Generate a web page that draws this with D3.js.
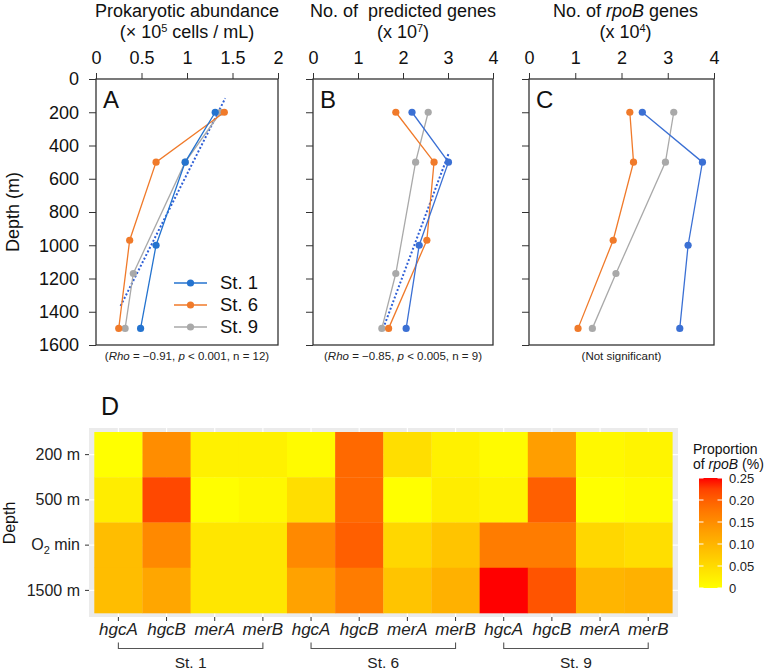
<!DOCTYPE html>
<html>
<head>
<meta charset="utf-8">
<script src="https://cdn.jsdelivr.net/npm/d3@7"></script>
<style>
  body { margin: 0; background: #fff; }
  svg { font-family: "Liberation Sans", Arial, sans-serif; }
</style>
</head>
<body>
<svg id="chart" width="767" height="671"></svg>
<script>
// ---- data for the depth profiles (A, B, C) ----
const depthTicks = [0, 200, 400, 600, 800, 1000, 1200, 1400, 1600];
const stations = ["St. 1", "St. 6", "St. 9"];
const depthsSt1 = [200, 500, 1000, 1500];
const depthsSt6 = [200, 500, 970, 1500];
const depthsSt9 = [200, 500, 1170, 1500];

const abundTicks = [0, 0.5, 1, 1.5, 2];
const abundSt1 = [1.31, 0.98, 0.66, 0.49];
const abundSt6 = [1.41, 0.66, 0.37, 0.25];
const abundSt9 = [1.37, 0.98, 0.41, 0.32];
const abundTrendX = [0.27, 1.42];
const abundTrendDepth = [1365, 116];

const geneTicks = [0, 1, 2, 3, 4];
const genesSt1 = [2.2, 3.01, 2.36, 2.07];
const genesSt6 = [1.84, 2.69, 2.53, 1.68];
const genesSt9 = [2.56, 2.28, 1.84, 1.53];
const genesTrendX = [1.56, 3.01];
const genesTrendDepth = [1500, 451];

const rpobTicks = [0, 1, 2, 3, 4];
const rpobSt1 = [2.45, 3.75, 3.44, 3.26];
const rpobSt6 = [2.18, 2.26, 1.82, 1.06];
const rpobSt9 = [3.13, 2.95, 1.88, 1.37];

// ---- data for the heatmap (D) ----
const genes = ["hgcA", "hgcB", "merA", "merB"];
const heatStations = ["St. 1", "St. 6", "St. 9"];
const depthRows = ["200 m", "500 m", "O2 min", "1500 m"];
const heat200 = [0.0, 0.15, 0.02, 0.02, 0.005, 0.19, 0.045, 0.02, 0.005, 0.13, 0.01, 0.015];
const heat500 = [0.025, 0.22, 0.002, 0.01, 0.045, 0.19, 0.0, 0.025, 0.015, 0.2, 0.0, 0.005];
const heatO2 = [0.09, 0.155, 0.035, 0.035, 0.155, 0.2, 0.055, 0.08, 0.17, 0.17, 0.055, 0.045];
const heat1500 = [0.09, 0.12, 0.035, 0.035, 0.125, 0.17, 0.08, 0.105, 0.25, 0.21, 0.1, 0.105];
const legendTicks = [0, 0.05, 0.10, 0.15, 0.20, 0.25];

const colors = { "St. 1": "#2473cf", "St. 6": "#f07a2a", "St. 9": "#a9a9a9" };
const colorsBC = { "St. 1": "#3b70d4", "St. 6": "#f07a2a", "St. 9": "#a9a9a9" };
const FONT = 'Liberation Sans, Arial, sans-serif';

const svg = d3.select('#chart');

// ---------- profile panels ----------
const plotTop = 79, plotBottom = 345;
const yScale = d3.scaleLinear().domain([0, 1600]).range([plotTop, plotBottom]);

function drawProfile(opt) {
    const x = d3.scaleLinear().domain(opt.domain).range([opt.x0, opt.x1]);
    const g = svg.append('g');

    // top axis
    const xa = g.append('g')
        .attr('transform', `translate(0,${plotTop})`)
        .call(d3.axisTop(x).tickValues(opt.ticks).tickSize(6).tickPadding(9).tickFormat(d3.format('')));
    xa.select('.domain').remove();
    xa.selectAll('line').attr('stroke', '#333');
    xa.selectAll('text').attr('font-size', 18).attr('fill', '#111').attr('font-family', FONT);

    // left axis
    const ya = g.append('g')
        .attr('transform', `translate(${opt.x0},0)`)
        .call(d3.axisLeft(yScale).tickValues(depthTicks).tickSize(7).tickPadding(10).tickFormat(d3.format('d')));
    ya.select('.domain').remove();
    ya.selectAll('line').attr('stroke', '#333');
    ya.selectAll('text').attr('font-size', 18).attr('fill', '#111').attr('font-family', FONT);
    if (!opt.yLabels) ya.selectAll('text').remove();

    g.append('rect')
        .attr('x', opt.x0).attr('y', plotTop)
        .attr('width', opt.x1 - opt.x0).attr('height', plotBottom - plotTop)
        .attr('fill', 'none').attr('stroke', '#333').attr('stroke-width', 1.3);

    // titles
    const cx = (opt.x0 + opt.x1) / 2 + (opt.titleShift || 0);
    const t1 = g.append('text').attr('x', cx).attr('y', 17).attr('text-anchor', 'middle')
        .attr('font-size', 18).attr('fill', '#111');
    opt.title1(t1);
    const t2 = g.append('text').attr('x', cx).attr('y', 38).attr('text-anchor', 'middle')
        .attr('font-size', 18).attr('fill', '#111');
    opt.title2(t2);

    // panel letter
    g.append('text').attr('x', opt.x0 + 7).attr('y', 108)
        .attr('font-size', 24).attr('fill', '#111').text(opt.letter);

    // caption
    const cap = g.append('text').attr('x', (opt.x0 + opt.x1) / 2).attr('y', 360)
        .attr('text-anchor', 'middle').attr('font-size', 11.5).attr('fill', '#222');
    opt.caption(cap);

    // trend line
    if (opt.trendX) {
        g.append('line')
            .attr('x1', x(opt.trendX[0])).attr('y1', yScale(opt.trendDepth[0]))
            .attr('x2', x(opt.trendX[1])).attr('y2', yScale(opt.trendDepth[1]))
            .attr('stroke', '#2f5fd6').attr('stroke-width', 2)
            .attr('stroke-dasharray', '2,2');
    }

    const line = d3.line().x(d => x(d[0])).y(d => yScale(d[1]));
    // draw gray, orange, then blue on top
    [2, 1, 0].forEach(i => {
        const st = stations[i];
        const pts = opt.values[i].map((v, j) => [v, opt.depths[i][j]]);
        g.append('path').datum(pts)
            .attr('d', line).attr('fill', 'none')
            .attr('stroke', opt.palette[st]).attr('stroke-width', 1.3);
        g.selectAll(null).data(pts).enter().append('circle')
            .attr('cx', d => x(d[0])).attr('cy', d => yScale(d[1]))
            .attr('r', 3.6).attr('fill', opt.palette[st]);
    });
}

function rhoCaption(rho, p, n) {
    return t => {
        t.append('tspan').text('(');
        t.append('tspan').attr('font-style', 'italic').text('Rho');
        t.append('tspan').text(` = \u2212${rho}, `);
        t.append('tspan').attr('font-style', 'italic').text('p');
        t.append('tspan').text(` < ${p}, n = ${n})`);
    };
}

function superTitle(base, exp, tail) {
    return t => {
        t.append('tspan').text(base);
        t.append('tspan').attr('font-size', 11).attr('dy', -6).text(exp);
        t.append('tspan').attr('dy', 6).text(tail);
    };
}

drawProfile({
    x0: 96, x1: 278, domain: [0, 2], ticks: abundTicks, yLabels: true, letter: 'A',
    palette: colors,
    values: [abundSt1, abundSt6, abundSt9],
    depths: [depthsSt1, depthsSt6, depthsSt9],
    trendX: abundTrendX, trendDepth: abundTrendDepth,
    title1: t => t.text('Prokaryotic abundance'),
    title2: superTitle('(\u00d7 10', '5', ' cells / mL)'),
    caption: rhoCaption('0.91', '0.001', 12)
});

drawProfile({
    x0: 313, x1: 493, domain: [0, 4], ticks: geneTicks, yLabels: false, letter: 'B',
    palette: colorsBC,
    values: [genesSt1, genesSt6, genesSt9],
    depths: [depthsSt1, depthsSt6, depthsSt9],
    trendX: genesTrendX, trendDepth: genesTrendDepth,
    title1: t => t.attr('xml:space', 'preserve').text('No. of  predicted genes'),
    title2: superTitle('(x 10', '7', ')'),
    caption: rhoCaption('0.85', '0.005', 9)
});

drawProfile({
    x0: 529, x1: 714, domain: [0, 4], ticks: rpobTicks, yLabels: false, letter: 'C',
    palette: colorsBC, titleShift: 4,
    values: [rpobSt1, rpobSt6, rpobSt9],
    depths: [depthsSt1, depthsSt6, depthsSt9],
    title1: t => {
        t.append('tspan').text('No. of ');
        t.append('tspan').attr('font-style', 'italic').text('rpoB');
        t.append('tspan').text(' genes');
    },
    title2: superTitle('(x 10', '4', ')'),
    caption: t => t.text('(Not significant)')
});

// y axis title
svg.append('text')
    .attr('transform', `translate(19,${(plotTop + plotBottom) / 2}) rotate(-90)`)
    .attr('text-anchor', 'middle').attr('font-size', 18).attr('fill', '#111')
    .text('Depth (m)');

// legend in panel A
stations.forEach((st, i) => {
    const ly = 283 + i * 22;
    svg.append('line').attr('x1', 174).attr('x2', 207).attr('y1', ly).attr('y2', ly)
        .attr('stroke', colors[st]).attr('stroke-width', 1.3);
    svg.append('circle').attr('cx', 190.5).attr('cy', ly).attr('r', 3.6).attr('fill', colors[st]);
    svg.append('text').attr('x', 220).attr('y', ly + 6).attr('font-size', 18.5)
        .attr('fill', '#111').text(st);
});

// ---------- heatmap ----------
const heatRows = [heat200, heat500, heatO2, heat1500];
const columns = [];
heatStations.forEach(st => genes.forEach(gn => columns.push(st + '|' + gn)));

const hx = d3.scaleBand().domain(columns).range([94.3, 672.3]);
const hy = d3.scaleBand().domain(depthRows).range([432, 613]);
const color = d3.scaleLinear().domain([0, 0.25]).range(['#ffff00', '#ff0000'])
    .interpolate(d3.interpolateLab);

svg.append('rect').attr('x', 89).attr('y', 428).attr('width', 589).attr('height', 189)
    .attr('fill', '#ebebeb');
const grid = svg.append('g');
columns.forEach(c => grid.append('line')
    .attr('x1', hx(c) + hx.bandwidth() / 2).attr('x2', hx(c) + hx.bandwidth() / 2)
    .attr('y1', 428).attr('y2', 617).attr('stroke', '#fff').attr('stroke-width', 1.2));
depthRows.forEach(r => grid.append('line')
    .attr('y1', hy(r) + hy.bandwidth() / 2).attr('y2', hy(r) + hy.bandwidth() / 2)
    .attr('x1', 89).attr('x2', 678).attr('stroke', '#fff').attr('stroke-width', 1.2));

const cells = [];
heatRows.forEach((row, i) => row.forEach((v, j) => cells.push({ row: depthRows[i], col: columns[j], v })));
svg.append('g').selectAll('rect').data(cells).enter().append('rect')
    .attr('x', d => hx(d.col)).attr('y', d => hy(d.row))
    .attr('width', hx.bandwidth() + 0.3).attr('height', hy.bandwidth() + 0.3)
    .attr('fill', d => color(d.v));

// heatmap axes
const hxa = svg.append('g').attr('transform', 'translate(0,617)')
    .call(d3.axisBottom(hx).tickSize(4).tickPadding(2).tickFormat(d => d.split('|')[1]));
hxa.select('.domain').remove();
hxa.selectAll('line').attr('stroke', '#333');
hxa.selectAll('text').attr('font-size', 17).attr('font-style', 'italic').attr('fill', '#222')
    .attr('font-family', FONT);

const hya = svg.append('g').attr('transform', 'translate(89,0)')
    .call(d3.axisLeft(hy).tickSize(4).tickPadding(5));
hya.select('.domain').remove();
hya.selectAll('line').attr('stroke', '#333');
hya.selectAll('text').attr('font-size', 16).attr('fill', '#222').attr('font-family', FONT)
    .each(function (d) {
        if (d === 'O2 min') {
            const t = d3.select(this).text('');
            t.append('tspan').text('O');
            t.append('tspan').attr('font-size', 11).attr('dy', 4).text('2');
            t.append('tspan').attr('dy', -4).text(' min');
        }
    });

svg.append('text')
    .attr('transform', 'translate(15,523) rotate(-90)')
    .attr('text-anchor', 'middle').attr('font-size', 16).attr('fill', '#111').text('Depth');

svg.append('text').attr('x', 101).attr('y', 415).attr('font-size', 25).attr('fill', '#111').text('D');

// station brackets
heatStations.forEach(st => {
    const a = hx(st + '|' + genes[0]) + hx.bandwidth() / 2;
    const b = hx(st + '|' + genes[3]) + hx.bandwidth() / 2;
    svg.append('path')
        .attr('d', `M${a},642.5V648.5H${b}V642.5`)
        .attr('fill', 'none').attr('stroke', '#555').attr('stroke-width', 1.1);
    svg.append('text').attr('x', (a + b) / 2).attr('y', 668).attr('text-anchor', 'middle')
        .attr('font-size', 15.5).attr('fill', '#222').text(st);
});

// color legend
const legY = d3.scaleLinear().domain([0, 0.25]).range([588, 478]);
const defs = svg.append('defs');
const grad = defs.append('linearGradient').attr('id', 'heatgrad')
    .attr('x1', 0).attr('y1', 1).attr('x2', 0).attr('y2', 0);
d3.range(0, 1.0001, 0.1).forEach(t => grad.append('stop')
    .attr('offset', t).attr('stop-color', color(t * 0.25)));
svg.append('rect').attr('x', 699).attr('y', 478).attr('width', 23).attr('height', 110)
    .attr('fill', 'url(#heatgrad)');
legendTicks.forEach(t => {
    const y = legY(t);
    svg.append('line').attr('x1', 699).attr('x2', 703.5).attr('y1', y).attr('y2', y)
        .attr('stroke', '#fff').attr('stroke-width', 1);
    svg.append('line').attr('x1', 717.5).attr('x2', 722).attr('y1', y).attr('y2', y)
        .attr('stroke', '#fff').attr('stroke-width', 1);
    svg.append('text').attr('x', 729).attr('y', y + 4.5).attr('font-size', 13)
        .attr('fill', '#222').text(t === 0 ? '0' : d3.format('.2f')(t));
});
svg.append('text').attr('x', 693).attr('y', 454).attr('font-size', 14).attr('fill', '#111')
    .text('Proportion');
const lt = svg.append('text').attr('x', 693).attr('y', 469).attr('font-size', 14).attr('fill', '#111');
lt.append('tspan').text('of ');
lt.append('tspan').attr('font-style', 'italic').text('rpoB');
lt.append('tspan').text(' (%)');
</script>
</body>
</html>
